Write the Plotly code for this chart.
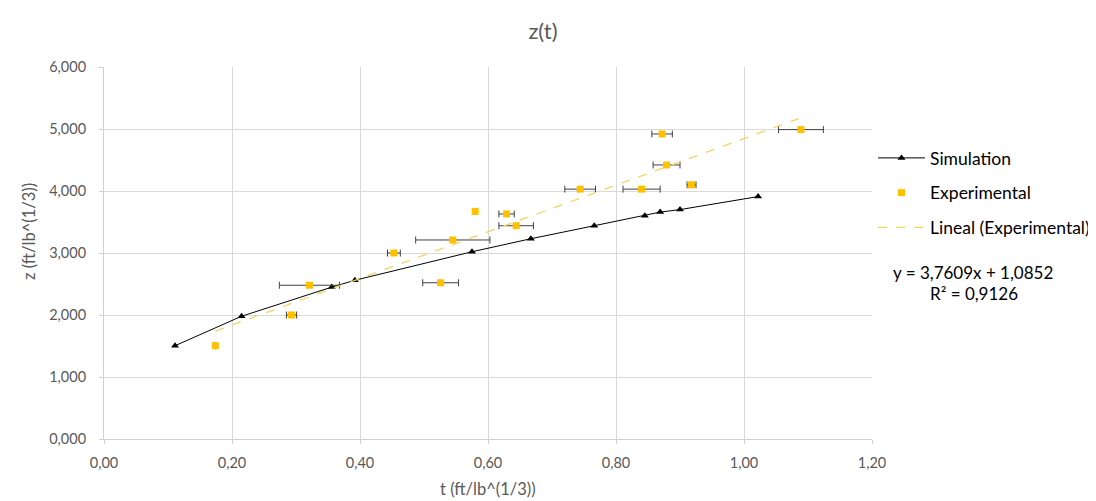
import plotly.graph_objects as go

# Simulation series
sim_t = [0.111, 0.215, 0.356, 0.392, 0.575, 0.667, 0.766, 0.845, 0.869, 0.900, 1.022]
sim_z = [1.505, 1.98, 2.45, 2.56, 3.02, 3.23, 3.44, 3.60, 3.66, 3.70, 3.91]

# Experimental series with horizontal error (None = no error bar)
exp_t = [0.174, 0.293, 0.321, 0.453, 0.526, 0.545, 0.580, 0.629, 0.644, 0.744, 0.840, 0.918, 0.879, 0.872, 1.089]
exp_z = [1.505, 2.00, 2.48, 3.00, 2.52, 3.21, 3.67, 3.63, 3.44, 4.03, 4.03, 4.10, 4.42, 4.92, 4.99]
exp_err = [None, 0.008, 0.047, 0.010, 0.028, 0.058, None, 0.012, 0.027, 0.024, 0.029, 0.007, 0.021, 0.016, 0.035]

# Linear trendline (Excel)
slope = 3.7609
intercept = 1.0852
r2 = 0.9126

x_ticks = [0.0, 0.2, 0.4, 0.6, 0.8, 1.0, 1.2]
y_ticks = [0, 1, 2, 3, 4, 5, 6]

FONT = "Lato, Calibri, Carlito, sans-serif"
GREY = "#595959"

# page has an 8px body margin; figure sized to fit the window
W, H = 1088, 493
OFF = 8
PL, PR, PT, PB = 104, 872, 67, 439  # plot area in screenshot pixels
PW, PH = PR - PL, PB - PT


def px(xs):
    return (xs - PL) / PW


def py(ys):
    return (PB - ys) / PH


trend_x = [min(exp_t), max(exp_t)]
trend_y = [slope * v + intercept for v in trend_x]

fig = go.Figure()
fig.add_trace(go.Scatter(
    x=sim_t, y=sim_z, mode="lines+markers", name="Simulation",
    line=dict(color="#000000", width=1),
    marker=dict(symbol="triangle-up", size=7, color="#000000"),
    legendgroup="a",
))
fig.add_trace(go.Scatter(
    x=exp_t, y=exp_z, mode="markers", name="Experimental",
    marker=dict(symbol="square", size=7, color="#FFC000"),
    error_x=dict(type="data", array=exp_err, visible=True, color="#404040", thickness=1, width=3.5),
    legendgroup="b",
))
fig.add_trace(go.Scatter(
    x=trend_x, y=trend_y, mode="lines", name="Lineal (Experimental)",
    line=dict(color="#F2D461", width=1.3, dash="dash"),
    legendgroup="c",
))

# Trendline equation
fig.add_annotation(
    x=px(973), y=py(272), xref="paper", yref="paper",
    xanchor="center", yanchor="middle",
    text=f"y = {slope:.4f}x + {intercept:.4f}".replace(".", ","),
    showarrow=False, font=dict(family=FONT, size=17, color="#000000"),
)
fig.add_annotation(
    x=px(974), y=py(293), xref="paper", yref="paper",
    xanchor="center", yanchor="middle",
    text=f"R² = {r2:.4f}".replace(".", ","),
    showarrow=False, font=dict(family=FONT, size=17, color="#000000"),
)

# Axis titles
fig.add_annotation(
    x=0.5, y=py(489), xref="paper", yref="paper",
    xanchor="center", yanchor="middle", text="t (ft/lb^(1/3))",
    showarrow=False, font=dict(family=FONT, size=16.5, color=GREY),
)
fig.add_annotation(
    x=px(29), y=py(232), xref="paper", yref="paper",
    xanchor="center", yanchor="middle", text="z (ft/lb^(1/3))", textangle=-90,
    showarrow=False, font=dict(family=FONT, size=16.5, color=GREY),
)

fig.update_layout(
    width=W, height=H,
    separators=",.",
    paper_bgcolor="white", plot_bgcolor="white",
    margin=dict(l=PL - OFF, r=W - (PR - OFF), t=PT - OFF, b=H - (PB - OFF), autoexpand=False),
    font=dict(family=FONT, color=GREY),
    title=dict(text="z(t)", x=(543 - OFF) / W, xanchor="center", y=1 - (31 - OFF) / H, yanchor="middle",
               font=dict(family=FONT, size=22, color=GREY)),
    xaxis=dict(
        range=[0, 1.2], tickvals=x_ticks, tickformat=".2f", automargin=False,
        showgrid=True, gridcolor="#D9D9D9", gridwidth=1,
        showline=True, linecolor="#D0D0D0", zeroline=False,
        ticks="outside", ticklen=4, tickcolor="#D0D0D0",
        ticklabelstandoff=7,
        tickfont=dict(size=14.5, color=GREY),
    ),
    yaxis=dict(
        range=[0, 6], tickvals=y_ticks, tickformat=".3f", automargin=False,
        showgrid=True, gridcolor="#D9D9D9", gridwidth=1,
        showline=True, linecolor="#D0D0D0", zeroline=False,
        ticks="outside", ticklen=4, tickcolor="#D0D0D0",
        ticklabelstandoff=10,
        tickfont=dict(size=14.5, color=GREY),
    ),
    legend=dict(
        x=px(873), y=py(140), xanchor="left", yanchor="top",
        font=dict(family=FONT, size=17.5, color="#000000"),
        itemwidth=47, tracegroupgap=9, traceorder="grouped",
        bgcolor="rgba(0,0,0,0)",
    ),
)

fig.write_html("out.html")
